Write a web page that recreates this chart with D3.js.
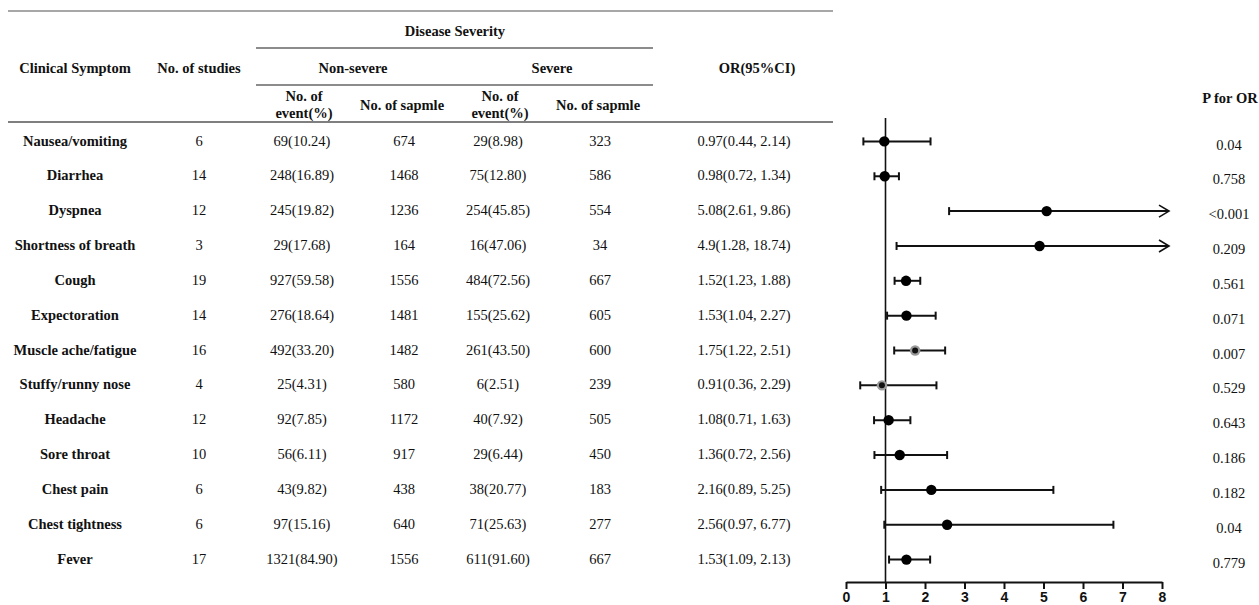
<!DOCTYPE html>
<html>
<head>
<meta charset="utf-8">
<script src="https://cdn.jsdelivr.net/npm/d3@7"></script>
<style>
  body { margin: 0; background: #fff; }
  svg { display: block; }
</style>
</head>
<body>
<div id="chart"></div>
<script>
// table data
var symptoms = ["Nausea/vomiting", "Diarrhea", "Dyspnea", "Shortness of breath", "Cough", "Expectoration",
    "Muscle ache/fatigue", "Stuffy/runny nose", "Headache", "Sore throat", "Chest pain", "Chest tightness", "Fever"];
var nStudies = [6, 14, 12, 3, 19, 14, 16, 4, 12, 10, 6, 6, 17];
var nonSevereEvents = [69, 248, 245, 29, 927, 276, 492, 25, 92, 56, 43, 97, 1321];
var nonSeverePct = [10.24, 16.89, 19.82, 17.68, 59.58, 18.64, 33.20, 4.31, 7.85, 6.11, 9.82, 15.16, 84.90];
var nonSevereSample = [674, 1468, 1236, 164, 1556, 1481, 1482, 580, 1172, 917, 438, 640, 1556];
var severeEvents = [29, 75, 254, 16, 484, 155, 261, 6, 40, 29, 38, 71, 611];
var severePct = [8.98, 12.80, 45.85, 47.06, 72.56, 25.62, 43.50, 2.51, 7.92, 6.44, 20.77, 25.63, 91.60];
var severeSample = [323, 586, 554, 34, 667, 605, 600, 239, 505, 450, 183, 277, 667];
var orEst = [0.97, 0.98, 5.08, 4.9, 1.52, 1.53, 1.75, 0.91, 1.08, 1.36, 2.16, 2.56, 1.53];
var ciLow = [0.44, 0.72, 2.61, 1.28, 1.23, 1.04, 1.22, 0.36, 0.71, 0.72, 0.89, 0.97, 1.09];
var ciHigh = [2.14, 1.34, 9.86, 18.74, 1.88, 2.27, 2.51, 2.29, 1.63, 2.56, 5.25, 6.77, 2.13];
var pValues = ["0.04", "0.758", "<0.001", "0.209", "0.561", "0.071", "0.007", "0.529", "0.643", "0.186", "0.182", "0.04", "0.779"];
var xTicks = [0, 1, 2, 3, 4, 5, 6, 7, 8];

var width = 1259, height = 605;
var serif = "'Liberation Serif', 'Times New Roman', serif";

var svg = d3.select("#chart").append("svg")
    .attr("width", width)
    .attr("height", height);

var rows = symptoms.map(function(s, i) {
    return {
        name: s, studies: nStudies[i],
        nsEv: nonSevereEvents[i] + "(" + nonSeverePct[i].toFixed(2) + ")", nsN: nonSevereSample[i],
        sEv: severeEvents[i] + "(" + severePct[i].toFixed(2) + ")", sN: severeSample[i],
        or: orEst[i], lo: ciLow[i], hi: ciHigh[i], p: pValues[i]
    };
});

var y = d3.scaleBand()
    .domain(symptoms)
    .range([124, 577]);

// ---- table header ----
var head = svg.append("g").style("font-family", serif).style("font-weight", "bold")
    .style("font-size", "14.5px").attr("text-anchor", "middle").attr("fill", "#111");

function hline(x1, x2, yy, col, w) {
    svg.append("line").attr("x1", x1).attr("x2", x2).attr("y1", yy).attr("y2", yy)
        .attr("stroke", col).attr("stroke-width", w);
}
hline(8, 833, 11, "#8a8a8a", 1.6);
hline(256, 653, 48, "#666", 1.3);
hline(256, 653, 85, "#666", 1.3);
hline(8, 833, 122, "#555", 1.5);

head.append("text").attr("x", 455).attr("y", 31).attr("dy", "0.35em").text("Disease Severity");
head.append("text").attr("x", 75).attr("y", 68).attr("dy", "0.35em").text("Clinical Symptom");
head.append("text").attr("x", 199).attr("y", 68).attr("dy", "0.35em").text("No. of studies");
head.append("text").attr("x", 353).attr("y", 68).attr("dy", "0.35em").text("Non-severe");
head.append("text").attr("x", 552).attr("y", 68).attr("dy", "0.35em").text("Severe");
head.append("text").attr("x", 757).attr("y", 68).attr("dy", "0.35em").text("OR(95%CI)");
[304, 500].forEach(function(cx) {
    head.append("text").attr("x", cx).attr("y", 96).attr("dy", "0.35em").text("No. of");
    head.append("text").attr("x", cx).attr("y", 113).attr("dy", "0.35em").text("event(%)");
});
[402, 598].forEach(function(cx) {
    head.append("text").attr("x", cx).attr("y", 105).attr("dy", "0.35em").text("No. of sapmle");
});
head.append("text").attr("x", 1230).attr("y", 98).attr("dy", "0.35em").text("P for OR");

// ---- table body ----
var cols = [
    {x: 75, f: function(d) { return d.name; }, bold: true},
    {x: 199, f: function(d) { return d.studies; }},
    {x: 302, f: function(d) { return d.nsEv; }},
    {x: 404, f: function(d) { return d.nsN; }},
    {x: 498, f: function(d) { return d.sEv; }},
    {x: 600, f: function(d) { return d.sN; }},
    {x: 744, f: function(d) { return d.or + "(" + d.lo + ", " + d.hi + ")"; }}
];

var body = svg.append("g").style("font-family", serif).style("font-size", "14.5px")
    .attr("text-anchor", "middle").attr("fill", "#111");

var tr = body.selectAll(".row")
    .data(rows)
    .enter().append("g")
    .attr("class", "row")
    .attr("transform", function(d) { return "translate(0," + (y(d.name) + y.bandwidth() / 2 - 1) + ")"; });

cols.forEach(function(c) {
    tr.append("text")
        .attr("x", c.x)
        .attr("dy", "0.35em")
        .style("font-weight", c.bold ? "bold" : "normal")
        .text(c.f);
});

// p values
tr.append("text")
    .attr("x", 1229)
    .attr("y", 4)
    .attr("dy", "0.35em")
    .text(function(d) { return d.p; });

// ---- forest plot ----
var x = d3.scaleLinear()
    .domain([0, 8])
    .range([846, 1162]);

var axisY = 582;
var xAxis = d3.axisBottom(x)
    .tickValues(xTicks)
    .tickSize(7)
    .tickSizeOuter(0)
    .tickPadding(3);

var ax = svg.append("g")
    .attr("transform", "translate(0," + axisY + ")")
    .call(xAxis);
ax.select(".domain").attr("stroke", "#111").attr("stroke-width", 2);
ax.selectAll(".tick line").attr("stroke", "#111").attr("stroke-width", 2);
ax.selectAll(".tick text")
    .attr("fill", "#111")
    .style("font-family", "'Liberation Sans', Arial, sans-serif")
    .style("font-weight", "bold")
    .style("font-size", "14px");

// reference line at OR = 1
svg.append("line")
    .attr("x1", x(1)).attr("x2", x(1))
    .attr("y1", 118).attr("y2", axisY)
    .attr("stroke", "#111").attr("stroke-width", 1.6);

var forest = svg.selectAll(".ci")
    .data(rows)
    .enter().append("g")
    .attr("class", "ci")
    .attr("transform", function(d) { return "translate(0," + (y(d.name) + y.bandwidth() / 2) + ")"; });

var xMax = x.domain()[1];
var arrowEnd = x.range()[1] + 7;

forest.append("line")
    .attr("x1", function(d) { return x(d.lo); })
    .attr("x2", function(d) { return d.hi > xMax ? arrowEnd : x(d.hi); })
    .attr("stroke", "#111").attr("stroke-width", 2);

forest.append("line")
    .attr("x1", function(d) { return x(d.lo); })
    .attr("x2", function(d) { return x(d.lo); })
    .attr("y1", -4).attr("y2", 4)
    .attr("stroke", "#111").attr("stroke-width", 2);

forest.filter(function(d) { return d.hi <= xMax; }).append("line")
    .attr("x1", function(d) { return x(d.hi); })
    .attr("x2", function(d) { return x(d.hi); })
    .attr("y1", -4).attr("y2", 4)
    .attr("stroke", "#111").attr("stroke-width", 2);

// open arrowhead where the CI runs off the axis
forest.filter(function(d) { return d.hi > xMax; }).append("path")
    .attr("d", "M" + (arrowEnd - 10) + ",-6L" + arrowEnd + ",0L" + (arrowEnd - 10) + ",6")
    .attr("fill", "none")
    .attr("stroke", "#111").attr("stroke-width", 1.6);

// two markers in the original are drawn grey with a dark centre
var greyMarkers = ["Muscle ache/fatigue", "Stuffy/runny nose"];

forest.append("circle")
    .attr("cx", function(d) { return x(d.or); })
    .attr("r", 5.2)
    .attr("fill", function(d) { return greyMarkers.indexOf(d.name) >= 0 ? "#9a9a9a" : "#000"; });

forest.filter(function(d) { return greyMarkers.indexOf(d.name) >= 0; }).append("circle")
    .attr("cx", function(d) { return x(d.or); })
    .attr("r", 3)
    .attr("fill", "#111");
</script>
</body>
</html>
